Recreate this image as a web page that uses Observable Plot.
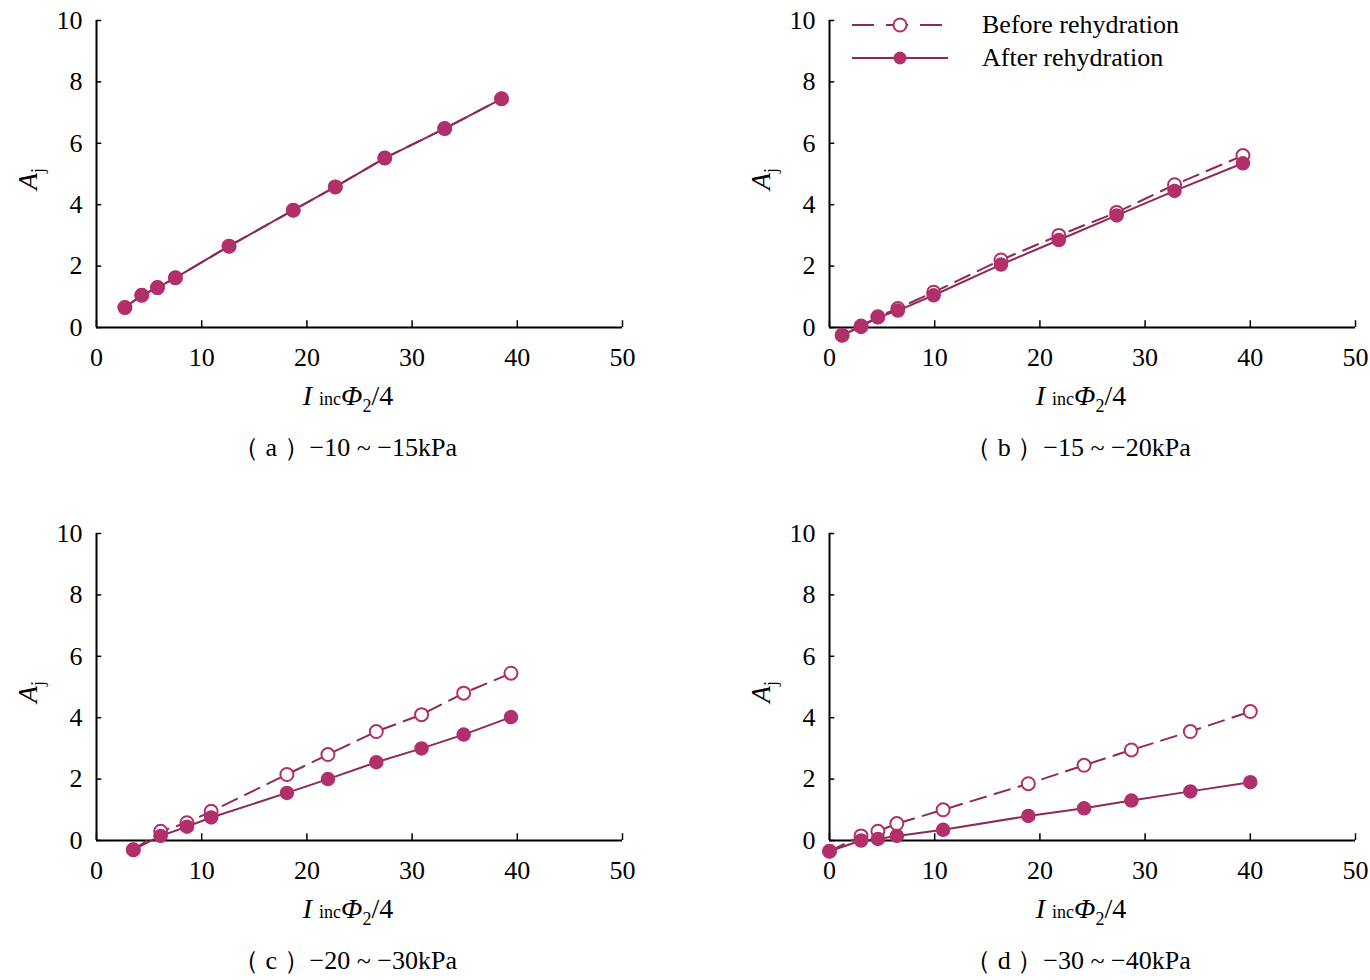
<!DOCTYPE html>
<html><head><meta charset="utf-8">
<script src="https://cdn.jsdelivr.net/npm/d3@7"></script>
<script src="https://cdn.jsdelivr.net/npm/@observablehq/plot@0.6"></script>
<style>
body{margin:0;background:#fff;font-family:"Liberation Serif",serif;overflow:hidden;}
#root{position:relative;width:1370px;height:980px;overflow:hidden;}
.p{position:absolute;}
.lab{position:absolute;font-size:28px;white-space:nowrap;transform:translateX(-50%);}
.yl{position:absolute;font-size:28px;font-style:italic;transform:rotate(-90deg);transform-origin:left top;}
</style></head><body><div id="root"></div>
<script>
const xTicks=[0,10,20,30,40,50];
const yTicks=[0,2,4,6,8,10];
const aX=[2.7,4.3,5.8,7.5,12.6,18.7,22.7,27.4,33.1,38.5];
const aBefore=[0.65,1.05,1.3,1.62,2.65,3.82,4.58,5.52,6.48,7.45];
const aAfter=[0.65,1.05,1.3,1.62,2.65,3.82,4.58,5.52,6.48,7.45];
const bX=[1.2,3,4.6,6.5,9.9,16.3,21.8,27.3,32.8,39.3];
const bBefore=[-0.25,0.05,0.35,0.62,1.15,2.2,3.0,3.75,4.65,5.6];
const bAfter=[-0.25,0.02,0.33,0.55,1.05,2.05,2.85,3.65,4.45,5.35];
const cX=[3.5,6.1,8.6,10.9,18.1,22,26.6,30.9,34.9,39.4];
const cBefore=[-0.3,0.3,0.58,0.95,2.15,2.8,3.55,4.1,4.8,5.45];
const cAfter=[-0.3,0.15,0.45,0.75,1.55,2.0,2.55,3.0,3.45,4.02];
const dX=[0,3,4.6,6.4,10.8,18.9,24.2,28.7,34.3,40];
const dBefore=[-0.35,0.15,0.3,0.55,1.0,1.85,2.45,2.95,3.55,4.2];
const dAfter=[-0.35,0,0.05,0.15,0.35,0.8,1.05,1.3,1.6,1.9];
const captions=["（ a ）−10 ~ −15kPa","（ b ）−15 ~ −20kPa","（ c ）−20 ~ −30kPa","（ d ）−30 ~ −40kPa"];
const LINE="#8e2a5a", FILL="#b2306a";
const root=document.getElementById("root");
function panel(i,left,top,xs,bef,aft){
  const B=xs.map((x,k)=>({x,y:bef[k]})), A=xs.map((x,k)=>({x,y:aft[k]}));
  const svg=Plot.plot({width:685,height:340,marginLeft:96,marginRight:63,marginTop:20,marginBottom:13,
    style:{fontFamily:"Liberation Serif",fontSize:"26px",color:"#000",background:"transparent",overflow:"visible"},
    x:{domain:[0,50],axis:null},y:{domain:[0,10],axis:null},
    marks:[
      Plot.ruleY([0],{x1:0,x2:50,stroke:"#000",strokeWidth:2}),
      Plot.ruleX([0],{y1:0,y2:10,stroke:"#000",strokeWidth:2}),
      Plot.ruleX(xTicks,{x:d=>d,y1:0,y2:0.22,stroke:"#000",strokeWidth:1.5}),
      Plot.ruleY(yTicks,{y:d=>d,x1:0,x2:0.5,stroke:"#000",strokeWidth:1.5}),
      Plot.text(xTicks,{x:d=>d,y:0,dy:30,text:d=>String(d),fontSize:26}),
      Plot.text(yTicks,{x:0,y:d=>d,dx:-14,textAnchor:"end",text:d=>String(d),fontSize:26}),
      Plot.line(B,{x:"x",y:"y",stroke:LINE,strokeWidth:2,strokeDasharray:"16,9",clip:false}),
      Plot.line(A,{x:"x",y:"y",stroke:LINE,strokeWidth:2,clip:false}),
      Plot.dot(B,{x:"x",y:"y",r:6.5,stroke:FILL,strokeWidth:2,fill:"white",clip:false}),
      Plot.dot(A,{x:"x",y:"y",r:6.5,fill:FILL,stroke:FILL,clip:false})
    ]});
  svg.classList.add("p");svg.style.left=left+"px";svg.style.top=top+"px";
  root.appendChild(svg);
  const xl=document.createElement("div");xl.className="lab";
  xl.style.left=(left+348)+"px";xl.style.top=(top+380)+"px";
  xl.innerHTML='<i>I</i> <span style="font-size:18px">inc</span><i>Φ</i><sub style="font-size:18px">2</sub>/4';
  root.appendChild(xl);
  const cp=document.createElement("div");cp.className="lab";cp.style.fontSize="26px";
  cp.style.left=(left+345)+"px";cp.style.top=(top+430)+"px";cp.textContent=captions[i];
  root.appendChild(cp);
  const yl=document.createElement("div");yl.className="yl";
  yl.style.left=(left+12)+"px";yl.style.top=(top+190)+"px";
  yl.innerHTML='A<sub style="font-size:18px;font-style:normal">j</sub>';
  root.appendChild(yl);
}
panel(0,0,0,aX,aBefore,aAfter);
panel(1,733,0,bX,bBefore,bAfter);
panel(2,0,513,cX,cBefore,cAfter);
panel(3,733,513,dX,dBefore,dAfter);
const lg=document.createElement("div");lg.style.cssText="position:absolute;left:850px;top:8px;font-size:26px;";
lg.innerHTML=`<div style="display:flex;align-items:center;height:33px"><svg width="100" height="20"><line x1="2" x2="98" y1="10" y2="10" stroke="${LINE}" stroke-width="2" stroke-dasharray="22,12"/><circle cx="50" cy="10" r="6.5" fill="white" stroke="${FILL}" stroke-width="2"/></svg><span style="margin-left:32px">Before rehydration</span></div>
<div style="display:flex;align-items:center;height:33px"><svg width="100" height="20"><line x1="2" x2="98" y1="10" y2="10" stroke="${LINE}" stroke-width="2"/><circle cx="50" cy="10" r="6.5" fill="${FILL}"/></svg><span style="margin-left:32px">After rehydration</span></div>`;
root.appendChild(lg);
</script></body></html>
